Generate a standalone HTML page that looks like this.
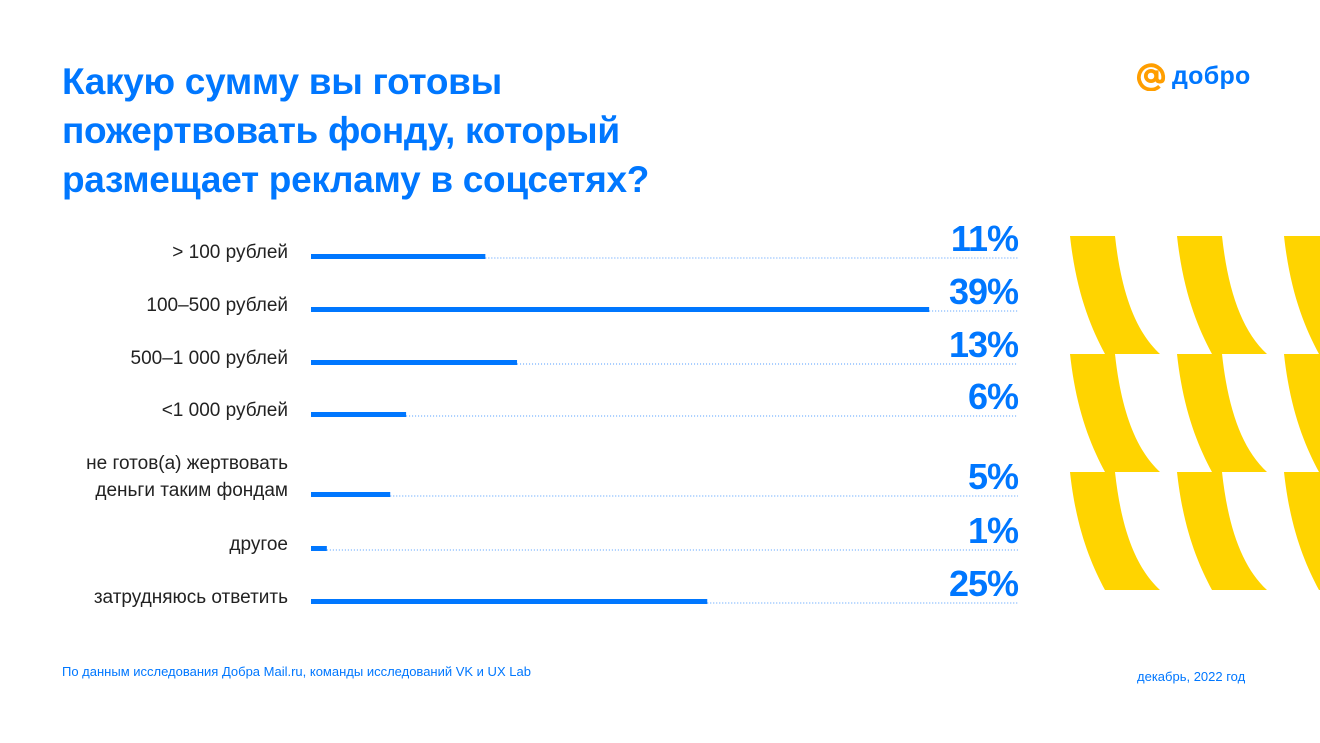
<!DOCTYPE html>
<html><head><meta charset="utf-8"><style>
body{margin:0;width:1320px;height:743px;background:#fff;font-family:"Liberation Sans",sans-serif;position:relative;overflow:hidden}
.t{position:absolute;left:62px;top:57px;color:#0077FF;font-size:37px;font-weight:bold;line-height:49px;letter-spacing:-0.3px}
.lbl{position:absolute;right:1032px;text-align:right;font-size:19px;color:#222;line-height:27px}
.pct{position:absolute;right:302px;font-size:36px;font-weight:bold;color:#0077FF;line-height:36px;letter-spacing:-1px}
.foot{position:absolute;font-size:13px;color:#0077FF}
</style></head><body>
<div class="t">Какую сумму вы готовы<br>пожертвовать фонду, который<br>размещает рекламу в соцсетях?</div>
<div style="position:absolute;left:1136px;top:61px;display:flex;align-items:center">
<svg width="30" height="30" viewBox="0 0 32 32"><path d="M25 27 A13 13 0 1 1 29 16 v2 q0 4 -3.5 4 q-3.5 0 -3.5 -4 v-8" fill="none" stroke="#FF9E00" stroke-width="4"/><circle cx="16" cy="16" r="5.5" fill="none" stroke="#FF9E00" stroke-width="4"/></svg>
<span style="font-size:25px;color:#0077FF;margin-left:6px;font-weight:bold;letter-spacing:0.3px">добро</span></div>
<svg id="deco" width="1320" height="743" style="position:absolute;left:0;top:0"></svg>
<svg id="chart" width="1320" height="743" style="position:absolute;left:0;top:0"></svg>
<div id="labels"></div>
<div class="foot" style="left:62px;top:664px">По данным исследования Добра Mail.ru, команды исследований VK и UX Lab</div>
<div class="foot" style="left:1137px;top:669px">декабрь, 2022 год</div>
<script>
const categories=["> 100 рублей","100–500 рублей","500–1 000 рублей","<1 000 рублей","не готов(а) жертвовать<br>деньги таким фондам","другое","затрудняюсь ответить"];
const values=[11,39,13,6,5,1,25];
const valueLabels=["11%","39%","13%","6%","5%","1%","25%"];
const rowY=[256,309,362,414,494,548,601];
const x0=311,xEnd=1018,scale=15.85;
const xs=v=>x0+v*scale;
const NS="http://www.w3.org/2000/svg";
const svg=document.getElementById('chart');
const lab=document.getElementById('labels');
values.forEach((v,i)=>{
 const y=rowY[i];
 const dl=document.createElementNS(NS,'line');
 
 
 dl.setAttribute('x1',xs(v));dl.setAttribute('x2',xEnd);dl.setAttribute('y1',y+2);dl.setAttribute('y2',y+2);
 dl.setAttribute('stroke','#4d9bff');dl.setAttribute('stroke-width','1');dl.setAttribute('stroke-dasharray','1 2');
 svg.appendChild(dl);
 const r=document.createElementNS(NS,'rect');
 
 
 r.setAttribute('x',x0);r.setAttribute('y',y-2);r.setAttribute('width',xs(v)-x0);r.setAttribute('height',5);r.setAttribute('fill','#0077FF');
 svg.appendChild(r);
 const l=document.createElement('div');
 
 
 l.className='lbl';l.innerHTML=categories[i];
 const lines=categories[i].split('<br>').length;
 l.style.top=(y-18-(lines-1)*27+1)+'px';
 lab.appendChild(l);
 const p=document.createElement('div');
 
 
 p.className='pct';p.textContent=valueLabels[i];p.style.top=(y-35)+'px';
 lab.appendChild(p);
});
const deco=document.getElementById('deco');
[1070,1177,1284].forEach(cx=>[236,354,472].forEach(cy=>{
 const p=document.createElementNS(NS,'path');
 
 
 p.setAttribute('d',`M${cx},${cy} L${cx+45},${cy} C${cx+51},${cy+55} ${cx+65},${cy+95} ${cx+90},${cy+118} L${cx+35},${cy+118} C${cx+20},${cy+90} ${cx+6},${cy+55} ${cx},${cy} Z`);
 p.setAttribute('fill','#FFD400');
 deco.appendChild(p);
}));
</script>
</body></html>
